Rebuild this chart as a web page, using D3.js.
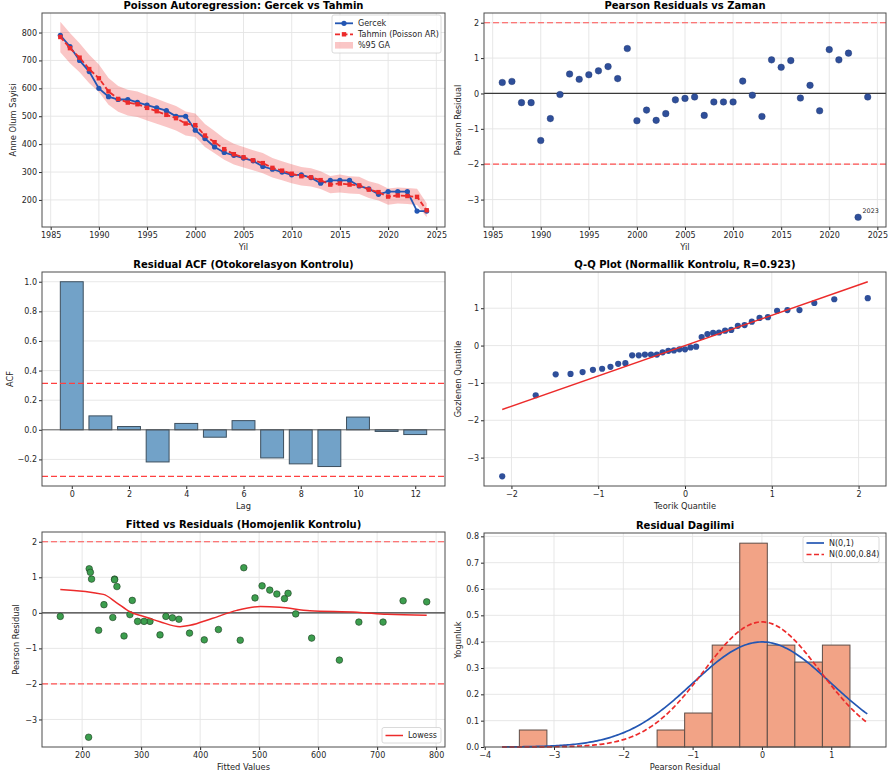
<!DOCTYPE html>
<html>
<head>
<meta charset="utf-8">
<script src="https://d3js.org/d3.v7.min.js"></script>
<style>
  body { margin: 0; background: #fff; }
  svg { font-family: "DejaVu Sans", sans-serif; }
</style>
</head>
<body>
<div id="chart"></div>
<script>
// ---- data ----
const years = [1986, 1987, 1988, 1989, 1990, 1991, 1992, 1993, 1994, 1995, 1996, 1997, 1998, 1999,
  2000, 2001, 2002, 2003, 2004, 2005, 2006, 2007, 2008, 2009, 2010, 2011, 2012, 2013, 2014,
  2015, 2016, 2017, 2018, 2019, 2020, 2021, 2022, 2023, 2024];
const gercek = [790, 750, 700, 660, 600, 570, 560, 560, 550, 540, 530, 520, 500, 500,
  450, 420, 390, 370, 360, 350, 340, 320, 310, 300, 290, 290, 280, 260, 270,
  270, 270, 250, 240, 220, 230, 230, 230, 160, 160];
const tahmin = [784, 744, 710, 669, 636, 589, 562, 549, 543, 530, 518, 505, 493, 474,
  468, 431, 407, 382, 364, 353, 342, 332, 315, 305, 294, 285, 281, 271, 255,
  259, 255, 252, 237, 228, 212, 216, 214, 211, 163];
const ciLower = [729, 690, 658, 618, 587, 541, 516, 503, 497, 485, 473, 461, 449, 431,
  426, 390, 367, 344, 327, 316, 306, 296, 280, 271, 260, 252, 248, 239, 224,
  227, 223, 221, 207, 198, 183, 187, 185, 182, 138];
const ciUpper = [839, 798, 762, 720, 685, 637, 608, 595, 589, 575, 563, 549, 537, 517,
  510, 472, 447, 420, 401, 390, 378, 368, 350, 339, 328, 318, 314, 303, 286,
  291, 285, 283, 267, 258, 241, 245, 243, 240, 188];
const residuals = [0.31, 0.34, -0.26, -0.26, -1.33, -0.71, -0.03, 0.55, 0.40, 0.53, 0.64, 0.76, 0.42, 1.27,
  -0.77, -0.47, -0.76, -0.57, -0.18, -0.14, -0.10, -0.62, -0.24, -0.24, -0.24, 0.35, -0.05, -0.65, 0.95,
  0.74, 0.93, -0.13, 0.23, -0.49, 1.24, 0.95, 1.14, -3.50, -0.10];

const acfLags = [0, 1, 2, 3, 4, 5, 6, 7, 8, 9, 10, 11, 12];
const acfValues = [1.0, 0.094, 0.022, -0.217, 0.043, -0.05, 0.062, -0.19, -0.23, -0.248, 0.086, -0.011, -0.032];
const acfConf = 0.314;

const qqTheoretical = [-2.106, -1.720, -1.490, -1.319, -1.180, -1.061, -0.955, -0.859, -0.770, -0.687,
  -0.609, -0.533, -0.462, -0.392, -0.324, -0.258, -0.192, -0.128, -0.064, 0,
  0.064, 0.128, 0.192, 0.258, 0.324, 0.392, 0.462, 0.533, 0.609, 0.687,
  0.770, 0.859, 0.955, 1.061, 1.180, 1.319, 1.490, 1.720, 2.106];
const qqSlope = 0.812;
const qqIntercept = -0.002;
const qqR = 0.923;

const lowessX = [163, 236, 258, 281, 310, 332, 366, 383, 420, 462, 502, 535, 586, 666, 717, 784];
const lowessY = [0.66, 0.52, 0.29, 0.03, -0.13, -0.25, -0.39, -0.35, -0.16, 0.07, 0.18, 0.16, 0.06, 0.02, -0.04, -0.07];

const histBins = 12;
const fitMean = 0.00;
const fitStd = 0.84;

// ---- layout ----
const W = 889, H = 778;
const svg = d3.select("#chart").append("svg").attr("width", W).attr("height", H);

const BLUE = "#2356b3";
const RED = "#ec2b2b";
const DOT = "#2f4f9a";
const TICK_FS = 8, LABEL_FS = 8.3, TITLE_FS = 10, LEGEND_FS = 8;

function panel(box, xDomain, yDomain, cfg) {
  const x = d3.scaleLinear().domain(xDomain).range([box.l, box.r]);
  const y = d3.scaleLinear().domain(yDomain).range([box.b, box.t]);
  const root = svg.append("g");
  const grid = root.append("g");
  if (cfg.xGrid !== false) {
    grid.selectAll(null).data(cfg.xTicks).join("line")
      .attr("x1", d => x(d)).attr("x2", d => x(d))
      .attr("y1", box.t).attr("y2", box.b);
  }
  grid.selectAll(null).data(cfg.yTicks).join("line")
    .attr("x1", box.l).attr("x2", box.r)
    .attr("y1", d => y(d)).attr("y2", d => y(d));
  grid.selectAll("line").attr("stroke", "#e4e4e4").attr("stroke-width", 0.9);

  const plot = root.append("g");
  const top = root.append("g");

  top.append("g")
    .attr("transform", `translate(0,${box.b})`)
    .call(d3.axisBottom(x).tickValues(cfg.xTicks).tickFormat(cfg.xFmt).tickSize(3).tickPadding(2.5))
    .call(a => a.select(".domain").remove())
    .attr("font-family", null).attr("font-size", TICK_FS).attr("color", "#262626");
  top.append("g")
    .attr("transform", `translate(${box.l},0)`)
    .call(d3.axisLeft(y).tickValues(cfg.yTicks).tickFormat(cfg.yFmt).tickSize(3).tickPadding(2))
    .call(a => a.select(".domain").remove())
    .attr("font-family", null).attr("font-size", TICK_FS).attr("color", "#262626");

  top.append("rect")
    .attr("x", box.l).attr("y", box.t)
    .attr("width", box.r - box.l).attr("height", box.b - box.t)
    .attr("fill", "none").attr("stroke", "#4d4d4d").attr("stroke-width", 1);

  top.append("text")
    .attr("x", (box.l + box.r) / 2).attr("y", box.t - 4.3)
    .attr("text-anchor", "middle").attr("font-weight", "bold").attr("font-size", TITLE_FS)
    .text(cfg.title);
  top.append("text")
    .attr("x", (box.l + box.r) / 2).attr("y", box.b + 23)
    .attr("text-anchor", "middle").attr("font-size", LABEL_FS).attr("fill", "#262626")
    .text(cfg.xLabel);
  top.append("text")
    .attr("transform", `translate(${box.l - cfg.yLabelOff},${(box.t + box.b) / 2}) rotate(-90)`)
    .attr("text-anchor", "middle").attr("font-size", LABEL_FS).attr("fill", "#262626")
    .text(cfg.yLabel);

  return { x, y, plot, top, box };
}

function hline(p, v, color, width, dash) {
  p.plot.append("line")
    .attr("x1", p.box.l).attr("x2", p.box.r)
    .attr("y1", p.y(v)).attr("y2", p.y(v))
    .attr("stroke", color).attr("stroke-width", width)
    .attr("stroke-dasharray", dash || null);
}

function legendBox(p, x0, y0, w, h) {
  return p.top.append("rect")
    .attr("x", x0).attr("y", y0).attr("width", w).attr("height", h).attr("rx", 2)
    .attr("fill", "#fff").attr("fill-opacity", 0.85)
    .attr("stroke", "#d0d0d0").attr("stroke-width", 0.8);
}

const yearTicks = [1985, 1990, 1995, 2000, 2005, 2010, 2015, 2020, 2025];
const fmtInt = d3.format("d");
const fmt1 = d3.format(".1f");

// ---- 1: Poisson Autoregression ----
{
  const p = panel({ l: 42, r: 445, t: 13, b: 227 }, [1984.1, 2025.9], [103, 870], {
    title: "Poisson Autoregression: Gercek vs Tahmin",
    xLabel: "Yil", yLabel: "Anne Olum Sayisi", yLabelOff: 26,
    xTicks: yearTicks, xFmt: fmtInt,
    yTicks: [200, 300, 400, 500, 600, 700, 800], yFmt: fmtInt
  });
  const idx = d3.range(years.length);
  p.plot.append("path")
    .datum(idx)
    .attr("d", d3.area().x(i => p.x(years[i])).y0(i => p.y(ciLower[i])).y1(i => p.y(ciUpper[i])))
    .attr("fill", RED).attr("fill-opacity", 0.27);
  p.plot.append("path")
    .datum(idx)
    .attr("d", d3.line().x(i => p.x(years[i])).y(i => p.y(gercek[i])))
    .attr("fill", "none").attr("stroke", BLUE).attr("stroke-width", 1.8);
  p.plot.selectAll(null).data(idx).join("circle")
    .attr("cx", i => p.x(years[i])).attr("cy", i => p.y(gercek[i])).attr("r", 2.6)
    .attr("fill", BLUE);
  p.plot.append("path")
    .datum(idx)
    .attr("d", d3.line().x(i => p.x(years[i])).y(i => p.y(tahmin[i])))
    .attr("fill", "none").attr("stroke", RED).attr("stroke-width", 1.8)
    .attr("stroke-dasharray", "5,2.5");
  p.plot.selectAll(null).data(idx).join("rect")
    .attr("x", i => p.x(years[i]) - 2.2).attr("y", i => p.y(tahmin[i]) - 2.2)
    .attr("width", 4.4).attr("height", 4.4)
    .attr("fill", RED);

  legendBox(p, 332, 15, 109, 38);
  const rows = [
    { label: "Gercek", type: "circle" },
    { label: "Tahmin (Poisson AR)", type: "square" },
    { label: "%95 GA", type: "patch" }
  ];
  rows.forEach((d, k) => {
    const cy = 23.3 + k * 11;
    const g = p.top.append("g");
    if (d.type === "patch") {
      g.append("rect").attr("x", 335).attr("y", cy - 3.3).attr("width", 18).attr("height", 6.6)
        .attr("fill", RED).attr("fill-opacity", 0.27);
    } else {
      const c = d.type === "circle" ? BLUE : RED;
      g.append("line").attr("x1", 335).attr("x2", 353).attr("y1", cy).attr("y2", cy)
        .attr("stroke", c).attr("stroke-width", 1.8)
        .attr("stroke-dasharray", d.type === "square" ? "5,2.5" : null);
      if (d.type === "circle") g.append("circle").attr("cx", 344).attr("cy", cy).attr("r", 2.6).attr("fill", c);
      else g.append("rect").attr("x", 341.8).attr("y", cy - 2.2).attr("width", 4.4).attr("height", 4.4).attr("fill", c);
    }
    g.append("text").attr("x", 358).attr("y", cy + 2.9).attr("font-size", LEGEND_FS).attr("fill", "#262626").text(d.label);
  });
}

// ---- 2: Pearson Residuals vs Zaman ----
{
  const p = panel({ l: 484, r: 886, t: 13, b: 227 }, [1984.1, 2025.9], [-3.775, 2.275], {
    title: "Pearson Residuals vs Zaman",
    xLabel: "Yil", yLabel: "Pearson Residual", yLabelOff: 23,
    xTicks: yearTicks, xFmt: fmtInt,
    yTicks: [-3, -2, -1, 0, 1, 2], yFmt: fmtInt
  });
  hline(p, 0, "#3a3a3a", 1.2);
  hline(p, 2, "#ff5050", 1.2, "6,3");
  hline(p, -2, "#ff5050", 1.2, "6,3");
  const idx = d3.range(years.length);
  p.plot.selectAll(null).data(idx).join("circle")
    .attr("cx", i => p.x(years[i])).attr("cy", i => p.y(residuals[i])).attr("r", 3.3)
    .attr("fill", DOT).attr("stroke", "#22386e").attr("stroke-width", 0.4);
  // annotate the large outlier
  const worst = d3.minIndex(residuals);
  p.top.append("text")
    .attr("x", p.x(years[worst]) + 4.4).attr("y", p.y(residuals[worst]) - 4)
    .attr("font-size", 6.4).attr("fill", "#262626")
    .text(years[worst]);
}

// ---- 3: Residual ACF ----
{
  const p = panel({ l: 42, r: 445, t: 272, b: 486 }, [-1.04, 13.04], [-0.3795, 1.0657], {
    title: "Residual ACF (Otokorelasyon Kontrolu)",
    xLabel: "Lag", yLabel: "ACF", yLabelOff: 29, xGrid: false,
    xTicks: [0, 2, 4, 6, 8, 10, 12], xFmt: fmtInt,
    yTicks: [-0.2, 0.0, 0.2, 0.4, 0.6, 0.8, 1.0], yFmt: fmt1
  });
  const bw = p.x(0.4) - p.x(-0.4);
  p.plot.selectAll(null).data(acfLags).join("rect")
    .attr("x", i => p.x(acfLags[i]) - bw / 2)
    .attr("y", i => p.y(Math.max(0, acfValues[i])))
    .attr("width", bw)
    .attr("height", i => Math.abs(p.y(acfValues[i]) - p.y(0)))
    .attr("fill", "#72a2c8").attr("stroke", "#3d4f5e").attr("stroke-width", 1);
  hline(p, 0, "#555", 0.9);
  hline(p, acfConf, "#ff4040", 1.2, "6,3");
  hline(p, -acfConf, "#ff4040", 1.2, "6,3");
}

// ---- 4: Q-Q plot ----
{
  const p = panel({ l: 484, r: 886, t: 272, b: 486 }, [-2.316, 2.316], [-3.76, 1.97], {
    title: `Q-Q Plot (Normallik Kontrolu, R=${qqR.toFixed(3)})`,
    xLabel: "Teorik Quantile", yLabel: "Gozlenen Quantile", yLabelOff: 23,
    xTicks: [-2, -1, 0, 1, 2], xFmt: fmtInt,
    yTicks: [-3, -2, -1, 0, 1], yFmt: fmtInt
  });
  const sorted = d3.sort(residuals);
  p.plot.selectAll(null).data(d3.range(sorted.length)).join("circle")
    .attr("cx", i => p.x(qqTheoretical[i])).attr("cy", i => p.y(sorted[i])).attr("r", 3.1)
    .attr("fill", DOT);
  const ends = d3.extent(qqTheoretical);
  p.plot.append("line")
    .attr("x1", p.x(ends[0])).attr("y1", p.y(qqSlope * ends[0] + qqIntercept))
    .attr("x2", p.x(ends[1])).attr("y2", p.y(qqSlope * ends[1] + qqIntercept))
    .attr("stroke", RED).attr("stroke-width", 1.5);
}

// ---- 5: Fitted vs Residuals ----
{
  const p = panel({ l: 42, r: 445, t: 532, b: 747 }, [132, 815], [-3.775, 2.275], {
    title: "Fitted vs Residuals (Homojenlik Kontrolu)",
    xLabel: "Fitted Values", yLabel: "Pearson Residual", yLabelOff: 23,
    xTicks: [200, 300, 400, 500, 600, 700, 800], xFmt: fmtInt,
    yTicks: [-3, -2, -1, 0, 1, 2], yFmt: fmtInt
  });
  hline(p, 0, "#3a3a3a", 1.2);
  hline(p, 2, "#ff5050", 1.2, "6,3");
  hline(p, -2, "#ff5050", 1.2, "6,3");
  p.plot.selectAll(null).data(d3.range(tahmin.length)).join("circle")
    .attr("cx", i => p.x(tahmin[i])).attr("cy", i => p.y(residuals[i])).attr("r", 3.3)
    .attr("fill", "#3c9e4e").attr("stroke", "#1f3d22").attr("stroke-width", 0.6);
  p.plot.append("path")
    .datum(d3.range(lowessX.length))
    .attr("d", d3.line().curve(d3.curveMonotoneX).x(i => p.x(lowessX[i])).y(i => p.y(lowessY[i])))
    .attr("fill", "none").attr("stroke", RED).attr("stroke-width", 1.5);

  legendBox(p, 382, 727.5, 59, 15.5);
  p.top.append("line").attr("x1", 385.5).attr("x2", 403).attr("y1", 735.5).attr("y2", 735.5)
    .attr("stroke", RED).attr("stroke-width", 1.5);
  p.top.append("text").attr("x", 408).attr("y", 738.4).attr("font-size", LEGEND_FS).attr("fill", "#262626").text("Lowess");
}

// ---- 6: Residual distribution ----
{
  const p = panel({ l: 484, r: 886, t: 533, b: 747 }, [-4.01, 1.79], [0, 0.8127], {
    title: "Residual Dagilimi",
    xLabel: "Pearson Residual", yLabel: "Yogunluk", yLabelOff: 23,
    xTicks: [-4, -3, -2, -1, 0, 1], xFmt: fmtInt,
    yTicks: [0, 0.1, 0.2, 0.3, 0.4, 0.5, 0.6, 0.7, 0.8], yFmt: fmt1
  });
  const [lo, hi] = d3.extent(residuals);
  const step = (hi - lo) / histBins;
  const bins = d3.bin()
    .domain([lo, hi])
    .thresholds(d3.range(1, histBins).map(k => lo + k * step))(residuals);
  const n = residuals.length;
  p.plot.selectAll(null).data(bins.filter(b => b.length > 0)).join("rect")
    .attr("x", b => p.x(b.x0)).attr("width", b => p.x(b.x1) - p.x(b.x0))
    .attr("y", b => p.y(b.length / (n * step)))
    .attr("height", b => p.y(0) - p.y(b.length / (n * step)))
    .attr("fill", "#f2a386").attr("stroke", "#5e4d47").attr("stroke-width", 1);

  const pdf = (v, m, s) => Math.exp(-0.5 * ((v - m) / s) ** 2) / (s * Math.sqrt(2 * Math.PI));
  const xs = d3.range(0, 201).map(k => (lo - 0.25) + k * ((hi + 0.25) - (lo - 0.25)) / 200);
  p.plot.append("path")
    .datum(xs)
    .attr("d", d3.line().x(v => p.x(v)).y(v => p.y(pdf(v, 0, 1))))
    .attr("fill", "none").attr("stroke", BLUE).attr("stroke-width", 1.7);
  p.plot.append("path")
    .datum(xs)
    .attr("d", d3.line().x(v => p.x(v)).y(v => p.y(pdf(v, fitMean, fitStd))))
    .attr("fill", "none").attr("stroke", RED).attr("stroke-width", 1.7)
    .attr("stroke-dasharray", "5,2.5");

  legendBox(p, 803, 536.5, 76, 26);
  const items = [
    { label: "N(0,1)", color: BLUE, dash: null },
    { label: `N(${fitMean.toFixed(2)},${fitStd.toFixed(2)})`, color: RED, dash: "5,2.5" }
  ];
  items.forEach((d, k) => {
    const cy = 543 + k * 11.5;
    p.top.append("line").attr("x1", 806.5).attr("x2", 824).attr("y1", cy).attr("y2", cy)
      .attr("stroke", d.color).attr("stroke-width", 1.7).attr("stroke-dasharray", d.dash);
    p.top.append("text").attr("x", 829).attr("y", cy + 2.8).attr("font-size", LEGEND_FS).attr("fill", "#262626").text(d.label);
  });
}
</script>
</body>
</html>
